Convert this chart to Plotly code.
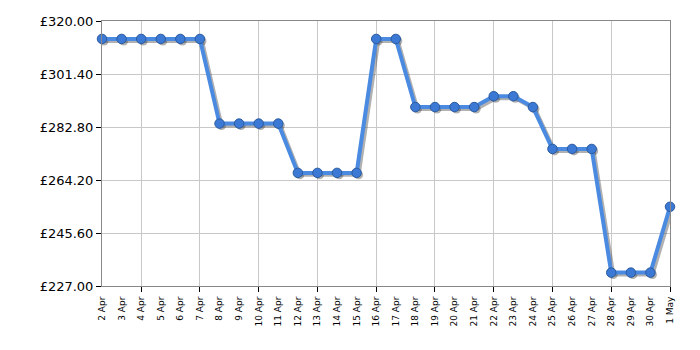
import plotly.graph_objects as go
import pandas as pd

dates = pd.date_range("2024-04-02", "2024-05-01", freq="D")
prices = [313.7, 313.7, 313.7, 313.7, 313.7, 313.7,
          284.0, 284.0, 284.0, 284.0,
          266.7, 266.7, 266.7, 266.7,
          313.7, 313.7,
          289.8, 289.8, 289.8, 289.8,
          293.6, 293.6, 289.8,
          275.1, 275.1, 275.1,
          231.7, 231.7, 231.7,
          254.8]
y_ticks = [227.0, 245.6, 264.2, 282.8, 301.4, 320.0]

shadow_x = dates + pd.Timedelta(hours=2.5)
shadow_y = [p - 0.7 for p in prices]

fig = go.Figure()
fig.add_trace(go.Scatter(
    x=shadow_x, y=shadow_y, mode="lines+markers",
    line=dict(color="rgba(60,60,60,0.4)", width=4),
    marker=dict(size=9, color="rgba(60,60,60,0.4)"),
    hoverinfo="skip", cliponaxis=False, showlegend=False))
fig.add_trace(go.Scatter(
    x=dates, y=prices, mode="lines+markers",
    line=dict(color="#4a8ae0", width=4),
    marker=dict(size=9.5, color="#3b79d4", line=dict(color="#2a5aa0", width=1)),
    cliponaxis=False, showlegend=False))

fig.update_layout(
    width=700, height=350,
    margin=dict(l=102, r=30, t=21, b=64),
    paper_bgcolor="white", plot_bgcolor="white",
    font=dict(family="DejaVu Sans", color="black"),
)
fig.update_xaxes(
    type="date",
    range=[dates[0], dates[-1]],
    tickmode="array", tickvals=dates,
    ticktext=[d.strftime("%-d %b") for d in dates],
    tickangle=-90, tickfont=dict(size=9),
    ticklabelstandoff=6,
    showgrid=False, ticks="",
    showline=True, linecolor="#888", linewidth=1, mirror=True,
    minor=dict(tickvals=dates[2::3], ticks="outside", ticklen=5, tickcolor="black",
               showgrid=True, gridcolor="#c8c8c8", gridwidth=1),
    zeroline=False,
)
fig.update_yaxes(
    range=[227, 320],
    tickmode="array", tickvals=y_ticks,
    ticktext=["£%.2f" % v for v in y_ticks],
    tickfont=dict(size=13),
    ticks="outside", ticklen=5, tickcolor="black",
    showgrid=True, gridcolor="#c8c8c8", gridwidth=1,
    showline=True, linecolor="#888", linewidth=1, mirror=True,
    zeroline=False,
)

fig.write_html("out.html")
